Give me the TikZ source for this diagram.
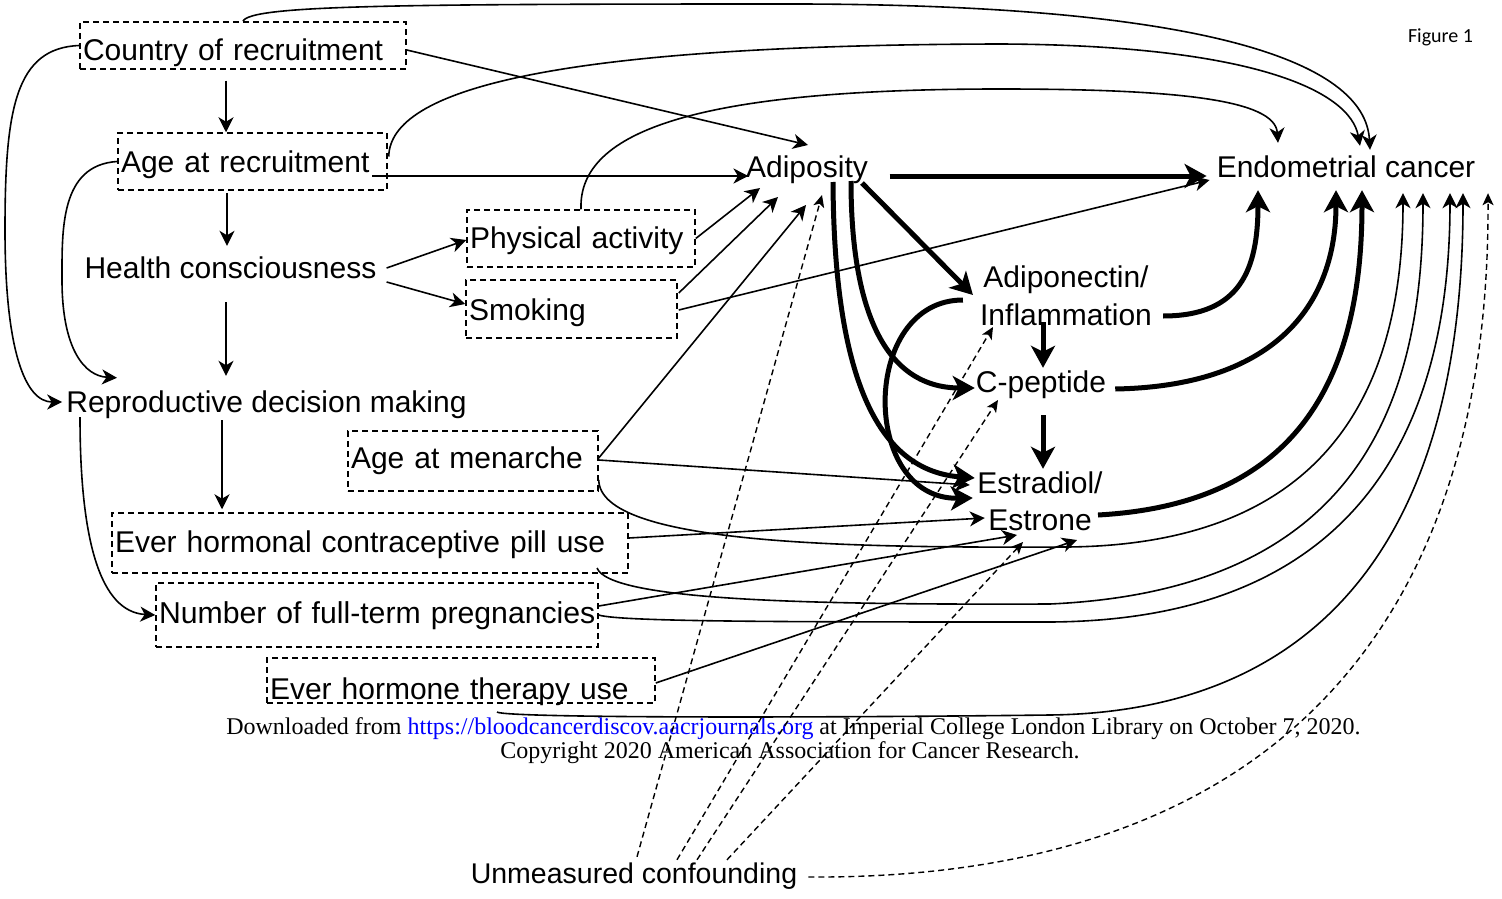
\documentclass[tikz,border=0pt]{standalone}
\usepackage{fontspec}
\setmainfont{Liberation Sans}
\newfontfamily\footserif{Liberation Serif}
\newfontfamily\figfont{Carlito}
\usetikzlibrary{arrows.meta,calc}
\newcommand\mystrut{\rule[-6pt]{0pt}{28pt}}
\begin{document}
\begin{tikzpicture}[x=1pt,y=-1pt,
  lbl/.style={inner sep=0pt, font=\fontsize{30}{38}\selectfont, text height=22pt, text depth=6pt},
  lbltwo/.style={inner sep=0pt, font=\fontsize{30}{38}\selectfont, align=center},
  dbox/.style={draw, line width=1.5pt, dash pattern=on 6pt off 4pt, inner xsep=3pt, inner ysep=0pt, align=left, font=\fontsize{30}{38}\selectfont},
  conn/.style={line width=1.6pt, -{Stealth[length=15pt,width=15pt,inset=4.5pt]}},
  bold/.style={line width=5pt, -{Stealth[length=22pt,width=24pt,inset=6pt]}},
  conf/.style={line width=1.4pt, dash pattern=on 6pt off 4pt, -{Stealth[length=12pt,width=11pt,inset=3pt]}}
]
\fill[white] (0,0) rectangle (1502,899);
\useasboundingbox (0,0) rectangle (1502,899);

% boxed nodes
\node[dbox, text width=320pt, minimum height=47pt, text height=33pt, text depth=4pt] (country) at (243,45.5) {Country of recruitment};
\node[dbox, text width=263pt, minimum height=57pt, text height=24pt, text depth=3pt] (age) at (252.5,161.5) {Age at recruitment};
\node[dbox, text width=222pt, minimum height=57pt, text height=23pt, text depth=4pt] (phys) at (581,238.5) {Physical activity};
\node[dbox, text width=205pt, minimum height=58pt, text height=25pt, text depth=3pt] (smok) at (571.5,309) {Smoking};
\node[dbox, text width=244pt, minimum height=60pt, text height=20pt, text depth=6pt] (men) at (473,461) {Age at menarche};
\node[dbox, text width=510pt, minimum height=60pt, text height=22pt, text depth=4pt] (pill) at (370,543) {Ever hormonal contraceptive pill use};
\node[dbox, text width=436pt, minimum height=64pt, text height=21pt, text depth=5pt, font=\fontsize{30.2}{36}\selectfont] (preg) at (377,615) {\mbox{Number of full-term pregnancies}};
\node[dbox, text width=382pt, minimum height=45pt, text height=40pt, text depth=3pt] (hrt) at (461,680.5) {Ever hormone therapy use};

% text nodes
\node[lbl] (health) at (230.5,270) {Health consciousness};
\node[lbl] (repro) at (266.5,404) {Reproductive decision making};
\node[lbl] (adip) at (807,169) {Adiposity};
\node[lbl] (endo) at (1346,169) {Endometrial cancer};
\node[lbl] (cpep) at (1041,384) {C-peptide};
\node[lbl, font=\fontsize{28.5}{34}\selectfont] (unmeas) at (634,875) {Unmeasured confounding};
\node[lbltwo] (adipo) at (1066,298) {\mystrut Adiponectin/\\\mystrut Inflammation};
\node[lbltwo] (estr) at (1040,503.5) {\mystrut Estradiol/\\[-1pt]\mystrut Estrone};

\node[font=\figfont\fontsize{20}{24}\selectfont, anchor=base, inner sep=0pt] (fig) at (1440.5,43) {Figure 1};
\node[font=\footserif\fontsize{24}{28}\selectfont, anchor=base, inner sep=0pt] (dl) at (793.5,734) {Downloaded from \textcolor{blue}{https://bloodcancerdiscov.aacrjournals.org} at Imperial College London Library on October 7, 2020.};
\node[font=\footserif\fontsize{24}{28}\selectfont, anchor=base, inner sep=0pt] (copy) at (790,758) {Copyright 2020 American Association for Cancer Research.};

% spine
\draw[conn] ($(country.south)+(-17,11)$) -- ($(age.north)+(-26.5,0)$);
\draw[conn] ($(age.south)+(-25.5,2)$) -- ($(health.north)+(-3.5,-10)$);
\draw[conn] ($(health.south)+(-4.5,18)$) -- ($(repro.north)+(-40.5,-14)$);
\draw[conn] ($(repro.south)+(-44.5,2)$) -- ($(pill.north)+(-148,-3)$);
\draw[conn] ($(health.east)+(10,-2)$) -- ($(phys.west)+(0,1.5)$);
\draw[conn] ($(health.east)+(10,12)$) -- ($(smok.west)+(0,-5)$);

% left curves
\draw[conn] (country.west) .. controls (15,48) and (5,110) .. (5,230) .. controls (5,350) and (25,402) .. ($(repro.west)+(-4,-2)$);
\draw[conn] (age.west) .. controls (60,165) and (62,230) .. (62,280) .. controls (62,350) and (85,376) .. ($(repro.north)+(-149.5,-12)$);
\draw[conn] ($(repro.center)+(-186.5,13)$) .. controls (80,540) and (100,612) .. (preg.west);

% into adiposity
\draw[conn] ($(country.east)+(0,4.5)$) -- ($(adip.center)+(1,-24)$);
\draw[conn] ($(age.center)+(119.5,14.5)$) -- ($(adip.west)+(2.5,7)$);
\draw[conn] (phys.east) -- ($(adip.center)+(-47,19)$);
\draw[conn] ($(smok.east)+(1,-16)$) -- ($(adip.center)+(-29,28)$);
\draw[conn] ($(men.east)+(0,-3)$) -- ($(adip.center)+(-1,36)$);

% smoking to cancer
\draw[conn] ($(smok.east)+(1,1)$) -- ($(endo.west)+(-7,11)$);

% adiposity outgoing
\draw[bold] ($(adip.east)+(21.5,7)$) -- ($(endo.west)+(-10,7)$);
\draw[bold] ($(adip.center)+(55,14)$) -- ($(adipo.west)+(-7,-3)$);
\draw[bold] ($(adip.center)+(44,12)$) .. controls (851,300) and (880,388) .. ($(cpep.west)+(-1,4)$);
\draw[bold] ($(adip.center)+(26,13)$) .. controls (834,360) and (870,470) .. ($(estr.west)+(-2.5,-25.5)$);
\draw[bold] ($(adipo.west)+(-17,2)$) .. controls (860,300) and (860,500) .. ($(estr.west)+(-4.5,-5.5)$);
\draw[bold] ($(adipo.center)+(-23,24)$) -- ($(cpep.north)+(2,-2)$);
\draw[bold] ($(cpep.south)+(2,17)$) -- ($(estr.north)+(3,-2)$);

% mediators to cancer
\draw[bold] ($(adipo.east)+(11,18)$) .. controls (1240,316) and (1258,270) .. ($(endo.south)+(-88,7)$);
\draw[bold] ($(cpep.east)+(9,5)$) .. controls (1280,386) and (1336,300) .. ($(endo.south)+(-10,7)$);
\draw[bold] ($(estr.center)+(58,11.5)$) .. controls (1280,505) and (1362,400) .. ($(endo.south)+(16,7)$);

% reproductive factors to cancer
\draw[conn] ($(men.east)+(0,19)$) .. controls (600,545) and (850,548) .. (1067,547) .. controls (1300,545) and (1403,420) .. ($(endo.south)+(57,10)$);
\draw[conn] ($(pill.center)+(227,25)$) .. controls (610,600) and (800,605) .. (1050,604) .. controls (1360,590) and (1423,400) .. ($(endo.south)+(77,10)$);
\draw[conn] (preg.east) .. controls (620,622) and (800,622) .. (1050,622) .. controls (1380,620) and (1450,400) .. ($(endo.south)+(104,10)$);
\draw[conn] ($(hrt.center)+(36,31.5)$) .. controls (505,718) and (800,718) .. (1050,715) .. controls (1300,712) and (1463,560) .. ($(endo.south)+(117,10)$);

% reproductive factors to hormones
\draw[conn] ($(men.east)+(0,-1)$) -- ($(estr.west)+(-7.5,-18.5)$);
\draw[conn] ($(pill.east)+(0,-5)$) -- ($(estr.west)+(7.5,14.5)$);
\draw[conn] ($(preg.east)+(0,-9)$) -- ($(estr.center)+(-23,31.5)$);
\draw[conn] ($(hrt.east)+(0,2.5)$) -- ($(estr.center)+(37,36.5)$);

% top curves
\draw[conn] (country.north) .. controls (250,5) and (400,4) .. (800,4) .. controls (1200,5) and (1365,60) .. ($(endo.north)+(24,-5)$);
\draw[conn] ($(age.east)+(1,-5)$) .. controls (390,90) and (550,45) .. (1000,44) .. controls (1250,45) and (1350,90) .. ($(endo.north)+(14,-9)$);
\draw[conn] (phys.north) .. controls (578,130) and (700,89) .. (1000,89) .. controls (1180,89) and (1275,100) .. ($(endo.north)+(-68,-12)$);

% unmeasured confounding
\draw[conf] ($(unmeas.north)+(3,-4)$) -- ($(adip.center)+(15,26)$);
\draw[conf] ($(unmeas.north)+(43,-1)$) -- ($(adipo.center)+(-73,29)$);
\draw[conf] ($(unmeas.north)+(63,-1)$) -- ($(cpep.center)+(-43,16)$);
\draw[conf] ($(unmeas.north)+(93,-1)$) -- ($(estr.center)+(-17,38.5)$);
\draw[conf] ($(unmeas.east)+(11,2)$) .. controls (1250,880) and (1490,650) .. ($(endo.south)+(142,10)$);
\end{tikzpicture}
\end{document}
